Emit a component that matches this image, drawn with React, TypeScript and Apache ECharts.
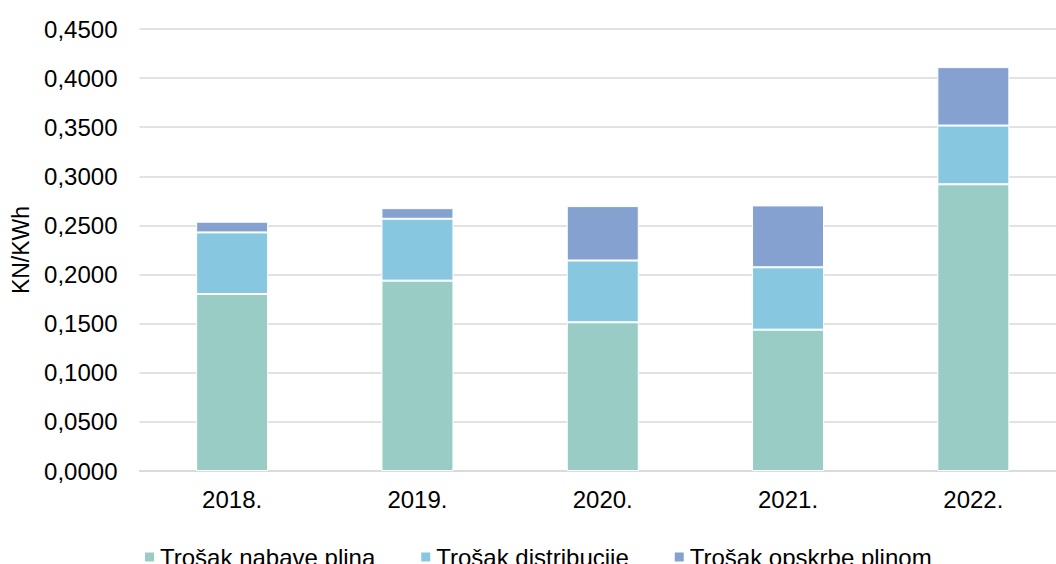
import React, { useEffect, useRef } from "react";
import * as echarts from "echarts";

const categories = ["2018.", "2019.", "2020.", "2021.", "2022."];
const nabava = [0.1802, 0.1938, 0.1514, 0.1439, 0.2919];
const distribucija = [0.0627, 0.063, 0.0629, 0.0635, 0.0598];
const opskrba = [0.0109, 0.0108, 0.0554, 0.063, 0.0595];
const seriesNames = ["Trošak nabave plina", "Trošak distribucije", "Trošak opskrbe plinom"];
const colors = ["#99CCC4", "#87C8E0", "#84A1CF"];

export default function App() {
  const ref = useRef<HTMLDivElement>(null);
  useEffect(() => {
    if (!ref.current) return;
    const chart = echarts.init(ref.current, null, { renderer: "svg" });
    const font = "'Liberation Sans', Arial, sans-serif";
    const mk = (name: string, data: number[], color: string) => ({
      name,
      type: "bar",
      stack: "total",
      data,
      barWidth: 72,
      itemStyle: { color, borderColor: "#ffffff", borderWidth: 1 },
    });
    chart.setOption({
      animation: false,
      color: colors,
      grid: { left: 139.5, right: 0, top: 29, bottom: 93 },
      legend: {
        left: 138,
        top: 540,
        itemWidth: 11,
        itemHeight: 11,
        itemGap: 44,
        icon: "rect",
        textStyle: { fontFamily: font, fontSize: 24, color: "#000" },
        data: seriesNames,
      },
      xAxis: {
        type: "category",
        data: categories,
        axisLine: { lineStyle: { color: "#d9d9d9", width: 1.5 } },
        axisTick: { show: false },
        axisLabel: { fontFamily: font, fontSize: 24, color: "#000", margin: 16 },
      },
      yAxis: {
        type: "value",
        min: 0,
        max: 0.45,
        interval: 0.05,
        name: "KN/KWh",
        nameLocation: "middle",
        nameGap: 107,
        nameTextStyle: { fontFamily: font, fontSize: 23, color: "#000" },
        axisLine: { show: false },
        axisTick: { show: false },
        splitLine: { lineStyle: { color: "#d9d9d9", width: 1.5 } },
        axisLabel: {
          fontFamily: font,
          fontSize: 24,
          color: "#000",
          margin: 22,
          formatter: (v: number) => v.toFixed(4).replace(".", ","),
        },
      },
      series: [
        mk(seriesNames[0], nabava, colors[0]),
        mk(seriesNames[1], distribucija, colors[1]),
        mk(seriesNames[2], opskrba, colors[2]),
      ],
    });
    return () => chart.dispose();
  }, []);
  return (
    <div
      style={{ position: "absolute", left: 0, top: 0, width: 1056, height: 564, overflow: "hidden", background: "#fff" }}
    >
      <div ref={ref} style={{ width: 1066, height: 564 }} />
    </div>
  );
}
